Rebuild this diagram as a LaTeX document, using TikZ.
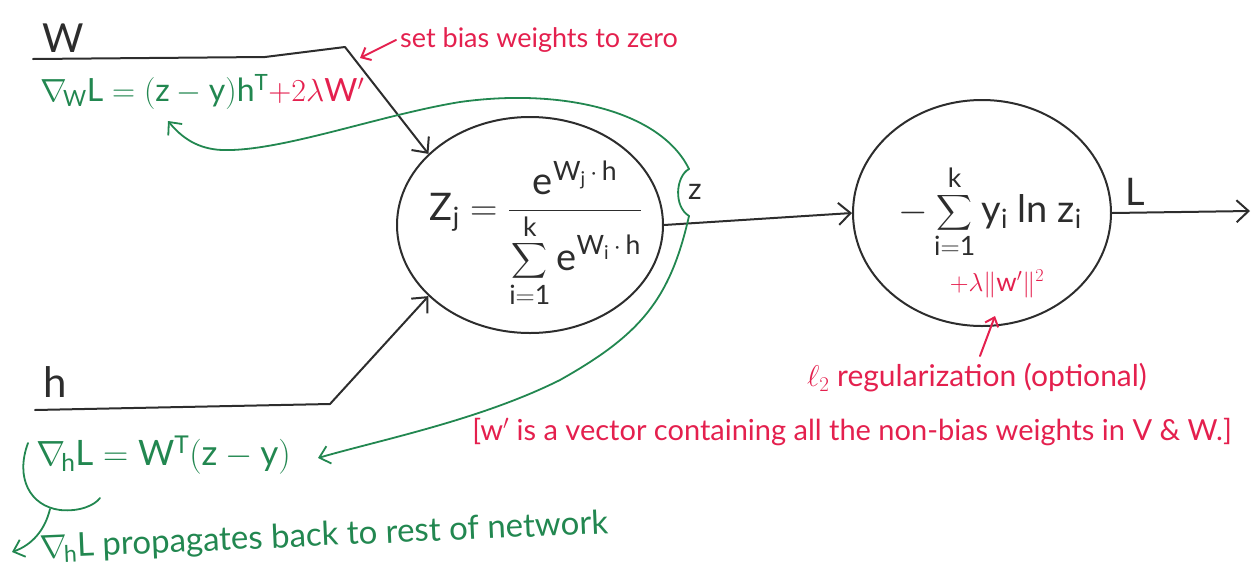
\RequirePackage{fix-cm}
\documentclass[tikz,border=0pt]{standalone}
\usepackage{amsmath}
\usepackage{fontspec}
\setmainfont{Lato}
\usetikzlibrary{shapes.geometric,arrows.meta}
\definecolor{mygreen}{RGB}{34,135,80}
\definecolor{myred}{RGB}{228,32,78}
\definecolor{myblack}{RGB}{45,45,45}
\tikzset{
  blk/.style={draw=myblack,line width=2pt,line join=round,line cap=round},
  blkarrow/.style={blk,-{Straight Barb[length=12pt,width=22pt,line width=2pt]}},
  garrow/.style={draw=mygreen,line width=1.8pt,line cap=round,-{Straight Barb[length=10pt,width=18pt,line width=1.8pt]}},
  gline/.style={draw=mygreen,line width=1.8pt,line cap=round},
  rarrow/.style={draw=myred,line width=2pt,line cap=round,-{Straight Barb[length=8pt,width=14pt,line width=2pt]}},
  neuron/.style={ellipse,draw=myblack,line width=2pt,inner sep=0pt},
  lbl/.style={inner sep=0pt,text=myblack},
  gtext/.style={inner sep=0pt,text=mygreen},
  rtext/.style={inner sep=0pt,text=myred},
}
\begin{document}
\begin{tikzpicture}[x=1pt,y=-1pt]
\useasboundingbox (0,0) rectangle (1253,584);
% neurons
\node[neuron,minimum width=266pt,minimum height=216pt] (sm) at (530,225) {};
\node[neuron,minimum width=258pt,minimum height=226pt] (loss) at (982,213) {};
% formulas inside
\node[lbl,font=\fontsize{38}{44}\selectfont] (smf) at (536,234)
  {$\mathrm{Z}_{\mathrm{j}} = \dfrac{\;\mathrm{e}^{\mathrm{W_j}\,\cdot\, \mathrm{h}}\;}{\displaystyle\sum_{\mathrm{i=1}}^{\mathrm{k}} \mathrm{e}^{\mathrm{W_i}\,\cdot\,\mathrm{h}}}$};
\node[lbl,font=\fontsize{38}{44}\selectfont] (lossf) at (990,212)
  {$-\displaystyle\sum_{\mathrm{i=1}}^{\mathrm{k}} \mathrm{y_i}\ \mathrm{ln}\ \mathrm{z_i}$};
\node[rtext,font=\fontsize{26}{30}\selectfont] (reg) at (997,284) {$+\lambda\|\mathrm{w}'\|^2$};
% labels
\node[lbl,font=\fontsize{40}{46}\selectfont] (W) at (63,38) {W};
\node[lbl,font=\fontsize{42}{48}\selectfont] (h) at (55,382) {h};
\node[lbl,font=\fontsize{38}{44}\selectfont] (L) at (1135,192) {L};
% input lines
\coordinate (w0) at (33,59);
\coordinate (w1) at (265,57);
\coordinate (w2) at (345,47);
\draw[blkarrow] (w0) -- (w1) -- (w2) -- (sm.145);
\coordinate (h0) at (35,410);
\coordinate (h1) at (330,404);
\draw[blkarrow] (h0) -- (h1) -- (sm.215);
\draw[blkarrow] (sm.east) -- (loss.west);
\coordinate (out) at (1250,211);
\draw[blkarrow] (loss.east) -- (out);
% z bubble
\coordinate (ztop) at (689,169);
\coordinate (zbot) at (689,216);
\draw[gline] (ztop) .. controls (676,176) and (673,206) .. (zbot);
\node[lbl,font=\fontsize{30}{34}\selectfont] (z) at (695,192) {z};
% gradient W
\node[gtext,font=\fontsize{32}{38}\selectfont,anchor=west] (gradW) at (40,92)
  {$\nabla_{\!\mathrm{W}}\mathrm{L} = (\mathrm{z}-\mathrm{y})\mathrm{h}^{\mathrm{T}}$\textcolor{myred}{$+ 2\lambda\mathrm{W}'$}};
\coordinate (gwtip) at (168,121);
\draw[garrow] (ztop) .. controls (660,110) and (560,88) .. (460,102)
  .. controls (380,115) and (280,152) .. (222,150)
  .. controls (198,149) and (182,138) .. (gwtip);
% gradient h
\node[gtext,font=\fontsize{35}{40}\selectfont,anchor=west] (gradh) at (36,455)
  {$\nabla_{\!\mathrm{h}}\mathrm{L} = \mathrm{W}^{\mathrm{T}}(\mathrm{z}-\mathrm{y})$};
\coordinate (ghtip) at (318,458);
\draw[garrow] (zbot) .. controls (670,300) and (640,335) .. (560,380)
  .. controls (480,420) and (380,440) .. (ghtip);
\draw[gline] (28,443) .. controls (15,478) and (30,506) .. (60,510) .. controls (80,512) and (95,505) .. (100,498);
\coordinate (hb) at (50,509);
\coordinate (hbtip) at (12,552);
\draw[garrow] (hb) .. controls (45,530) and (32,545) .. (hbtip);
\node[gtext,font=\fontsize{33}{38}\selectfont,anchor=west,rotate=2.5] (prop) at (40,549)
  {$\nabla_{\!\mathrm{h}}\mathrm{L}$ propagates back to rest of network};
% red annotations
\node[rtext,font=\fontsize{27}{32}\selectfont,anchor=west] (setbias) at (400,40) {set bias weights to zero};
\coordinate (sbtip) at (360,58);
\draw[rarrow] ([xshift=-4pt]setbias.west) -- (sbtip);
\node[rtext,font=\fontsize{30}{34}\selectfont] (l2) at (977,378) {$\ell_2$ regularization (optional)};
\coordinate (l2a) at (980,356);
\coordinate (l2b) at (995,316);
\draw[rarrow] (l2a) -- (l2b);
\node[rtext,font=\fontsize{29}{34}\selectfont] (note) at (852,432) {[w$'$ is a vector containing all the non-bias weights in V \& W.]};
\end{tikzpicture}
\end{document}
